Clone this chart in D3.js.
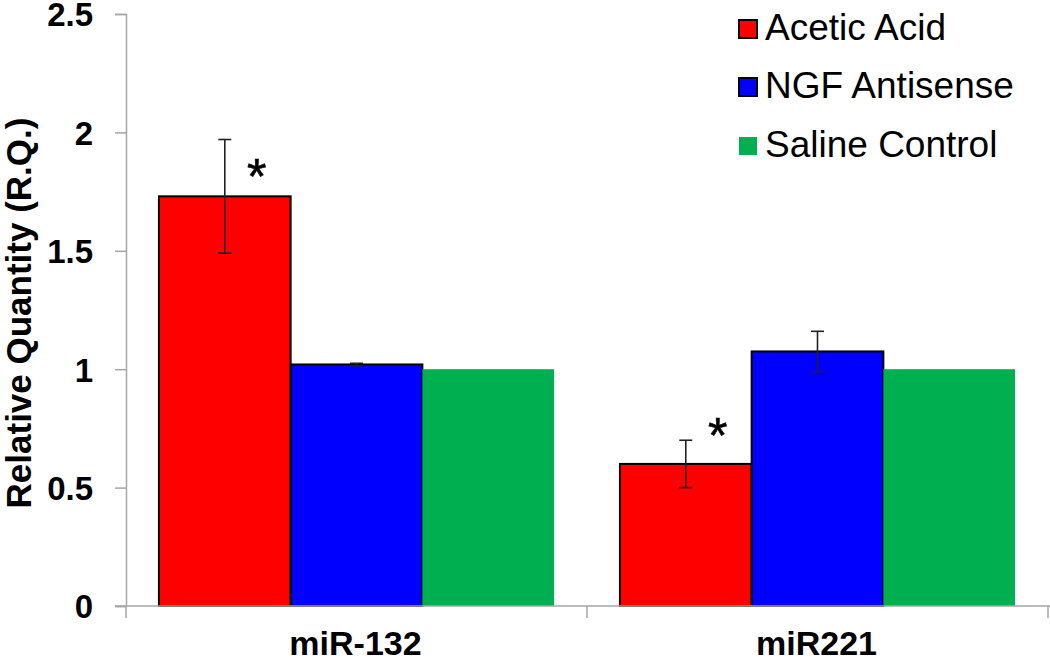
<!DOCTYPE html>
<html>
<head>
<meta charset="utf-8">
<script src="https://cdn.jsdelivr.net/npm/d3@7"></script>
<style>
  html, body { margin: 0; padding: 0; background: #fff; }
  svg { display: block; font-family: Arial, "Liberation Sans", sans-serif; }
</style>
</head>
<body>
<svg id="chart" width="1050" height="662"></svg>
<script>
// ---- data ----
const categories = ["miR-132", "miR221"];
const seriesNames = ["Acetic Acid", "NGF Antisense", "Saline Control"];
const aceticAcid = [1.73, 0.60];
const ngfAntisense = [1.02, 1.075];
const salineControl = [1.0, 1.0];
const aceticErr = [0.24, 0.10];
const ngfErr = [0.005, 0.085];
const salineErr = [null, null];
const significant = [true, false, false]; // per series: star over Acetic Acid bars
const starValues = [1.85, 0.755];          // y-value where each star sits
const yTicks = [0, 0.5, 1, 1.5, 2, 2.5];
const yTickLabels = ["0", "0.5", "1", "1.5", "2", "2.5"];
const colors = ["#ff0000", "#0000ff", "#00b050"];
const strokes = ["#000", "#000", "none"];

const seriesValues = [aceticAcid, ngfAntisense, salineControl];
const seriesErrs = [aceticErr, ngfErr, salineErr];

const svg = d3.select("#chart");
const W = 1050, H = 662;
const plotLeft = 126, plotRight = 1048, plotTop = 14, plotBottom = 606;

const x0 = d3.scaleBand().domain(categories).range([plotLeft, plotRight]).paddingInner(0).paddingOuter(0);
const x1 = d3.scaleBand().domain(seriesNames).range([0, x0.bandwidth()]).paddingInner(0).paddingOuter(0.25);
const y = d3.scaleLinear().domain([0, 2.5]).range([plotBottom, plotTop]);

const axisColor = "#a6a6a6";

// y axis
const yAxis = d3.axisLeft(y).tickValues(yTicks).tickSize(11).tickPadding(22)
  .tickFormat((d, i) => yTickLabels[i]);
const gy = svg.append("g").attr("transform", `translate(${plotLeft},0)`).call(yAxis);
gy.select(".domain").attr("stroke", axisColor).attr("stroke-width", 1.5);
gy.selectAll(".tick line").attr("stroke", axisColor).attr("stroke-width", 1.5);
gy.selectAll(".tick text").attr("fill", "#000").attr("font-size", 33).attr("font-weight", "bold")
  .attr("font-family", "Arial, 'Liberation Sans', sans-serif").attr("dy", "0.36em");

// bars
const groups = svg.append("g").selectAll("g").data(categories).join("g")
  .attr("transform", d => `translate(${x0(d)},0)`);

seriesNames.forEach((s, si) => {
  groups.append("rect")
    .attr("x", (d, ci) => x1(s))
    .attr("y", (d, ci) => y(seriesValues[si][ci]))
    .attr("width", x1.bandwidth())
    .attr("height", (d, ci) => y(0) - y(seriesValues[si][ci]))
    .attr("fill", colors[si])
    .attr("stroke", strokes[si])
    .attr("stroke-width", strokes[si] === "none" ? 0 : 2);
});

// x axis (drawn after bars)
svg.append("line").attr("x1", 115).attr("x2", W).attr("y1", plotBottom).attr("y2", plotBottom)
  .attr("stroke", axisColor).attr("stroke-width", 1.5);
const catBounds = [plotLeft, ...categories.map(c => x0(c) + x0.bandwidth())];
svg.append("g").selectAll("line").data(catBounds).join("line")
  .attr("x1", d => d).attr("x2", d => d).attr("y1", plotBottom).attr("y2", plotBottom + 12)
  .attr("stroke", axisColor).attr("stroke-width", 1.5);
svg.append("g").selectAll("text").data(categories).join("text")
  .attr("x", d => x0(d) + x0.bandwidth() / 2 - 1)
  .attr("y", 655)
  .attr("text-anchor", "middle")
  .attr("font-size", 34).attr("font-weight", "bold").attr("fill", "#000")
  .text(d => d);

// error bars
seriesNames.forEach((s, si) => {
  categories.forEach((c, ci) => {
    const e = seriesErrs[si][ci];
    if (e == null) return;
    const v = seriesValues[si][ci];
    const cx = x0(c) + x1(s) + x1.bandwidth() / 2;
    const g = svg.append("g").attr("stroke", "#222").attr("stroke-width", 1.6);
    g.append("line").attr("x1", cx).attr("x2", cx).attr("y1", y(v + e)).attr("y2", y(v - e));
    g.append("line").attr("x1", cx - 6.5).attr("x2", cx + 6.5).attr("y1", y(v + e)).attr("y2", y(v + e));
    g.append("line").attr("x1", cx - 6.5).attr("x2", cx + 6.5).attr("y1", y(v - e)).attr("y2", y(v - e));
  });
});

// significance stars
seriesNames.forEach((s, si) => {
  if (!significant[si]) return;
  categories.forEach((c, ci) => {
    const cx = x0(c) + x1(s) + x1.bandwidth() / 2 + 32;
    svg.append("text")
      .attr("x", cx).attr("y", y(starValues[ci]) + 26)
      .attr("text-anchor", "middle")
      .attr("font-size", 50).attr("fill", "#000")
      .attr("stroke", "#000").attr("stroke-width", 0.6)
      .text("*");
  });
});

// legend
const legend = svg.append("g").attr("transform", "translate(738,0)");
const legendRowsY = [40, 98, 157];
seriesNames.forEach((s, si) => {
  const by = legendRowsY[si];
  legend.append("rect")
    .attr("x", 1).attr("y", by - 20)
    .attr("width", 18).attr("height", 18)
    .attr("fill", colors[si])
    .attr("stroke", strokes[si])
    .attr("stroke-width", strokes[si] === "none" ? 0 : 2);
  legend.append("text")
    .attr("x", 27).attr("y", by)
    .attr("font-size", 37).attr("fill", "#000")
    .text(s);
});

// y axis title
svg.append("text")
  .attr("transform", "translate(31,313) rotate(-90)")
  .attr("text-anchor", "middle")
  .attr("font-size", 35).attr("font-weight", "bold").attr("fill", "#000")
  .text("Relative Quantity (R.Q.)");
</script>
</body>
</html>
